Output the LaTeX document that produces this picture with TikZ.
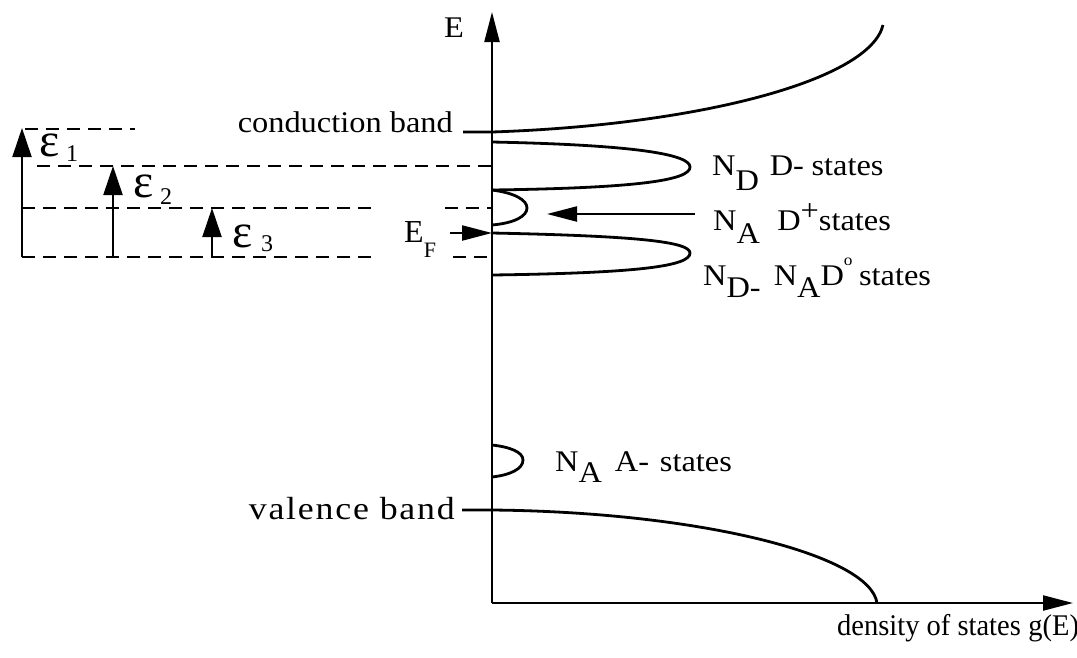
\documentclass[tikz,border=0pt]{standalone}
\usepackage{fontspec}
\setmainfont{Liberation Serif}
\usetikzlibrary{arrows.meta}
\newcommand{\dnsub}[2][14pt]{\raisebox{-#1}{#2}}
\newcommand{\wide}[1]{\scalebox{1.08}[1]{#1}}
\begin{document}
\begin{tikzpicture}[x=1pt,y=-1pt,
  ax/.style={line width=2.2pt},
  crv/.style={line width=2.8pt},
  dsh/.style={line width=2.4pt, dash pattern=on 13pt off 8pt},
  tip/.style={-{Triangle[length=30pt,width=15pt]}},
  etip/.style={-{Triangle[length=29pt,width=19pt]}},
  lbl/.style={font=\fontsize{30}{34}\selectfont, inner sep=0pt},
  eps/.style={font=\fontsize{48}{48}\selectfont, inner sep=0pt},
  epssub/.style={font=\fontsize{24}{26}\selectfont, inner sep=0pt}]
\useasboundingbox (0,0) rectangle (1077,657);
% axes
\coordinate (O) at (492,603);
\coordinate (Etop) at (492,12);
\coordinate (Gend) at (1073,603);
\draw[ax,tip] (O) -- (Etop);
\draw[ax,tip] (O) -- (Gend);
\node[lbl, anchor=base east] (E) at (464,37) {\wide{E}};
\node[lbl, anchor=base west] (dos) at (837,635) {\scalebox{0.95}[1]{density of states\hspace{8pt}g(E)}};
% conduction band
\coordinate (cbL) at (463,132);
\coordinate (cb0) at (492,132);
\coordinate (cbT) at (883,25);
\draw[crv] (cbL) -- (cb0) .. controls (700,125) and (870,80) .. (cbT);
\node[lbl, anchor=base east] (cb) at (453,132) {\wide{conduction band}};
% valence band
\coordinate (vbL) at (462,510);
\coordinate (vb0) at (492,510);
\coordinate (vbE) at (877,603);
\draw[crv] (vbL) -- (vb0) .. controls (700,512) and (870,555) .. (vbE);
\node[lbl, anchor=base east] (vb) at (455,519) {\scalebox{1.12}[1]{\fontsize{32}{36}\selectfont\addfontfeature{LetterSpace=5}valence band}};
% impurity lobes
\draw[crv] (492,142) .. controls (640,145) and (690,155) .. (690,167)
  .. controls (690,180) and (640,188) .. (492,190);
\draw[crv] (492,190) .. controls (515,193) and (527,200) .. (527,208)
  .. controls (527,216) and (515,223) .. (492,225);
\draw[crv] (492,233) .. controls (640,236) and (690,242) .. (690,253)
  .. controls (690,266) and (640,273) .. (492,275);
\draw[crv] (492,445) .. controls (510,447) and (523,452) .. (523,460)
  .. controls (523,469) and (510,475) .. (492,477);
% labels of states
\node[lbl, anchor=base west] (ld) at (712,175) {\wide{N\dnsub[15pt]{D}\hspace{10pt}D-\hspace{7pt}states}};
\node[lbl, anchor=base west] (lp) at (713,230) {\wide{N\dnsub[13pt]{A}\hspace{16pt}D\raisebox{10pt}{+}states}};
\node[lbl, anchor=base west] (lz) at (703,285) {\wide{N\dnsub[12pt]{D-}\hspace{12pt}N\dnsub[12pt]{A}D\raisebox{20pt}{\fontsize{16}{16}\selectfont o}\hspace{6pt}states}};
\node[lbl, anchor=base west] (la) at (555,471) {\wide{N\dnsub[11pt]{A}\hspace{12pt}A-\hspace{10pt}states}};
\coordinate (pA) at (695,214);
\coordinate (pB) at (547,214);
\draw[ax,tip] (pA) -- (pB);
% Fermi level
\coordinate (fA) at (450,233);
\coordinate (fB) at (492,233);
\draw[ax,tip] (fA) -- (fB);
\node[lbl, anchor=base west] (EF) at (404,242) {\fontsize{32}{34}\selectfont E\dnsub[15pt]{\fontsize{22}{24}\selectfont F}};
% dashed levels
\draw[dsh] (25,129) -- (135,129);
\draw[dsh] (37,166) -- (492,166);
\draw[dsh] (22,208) -- (377,208);
\draw[dsh] (445,208) -- (492,208);
\draw[dsh] (22,257) -- (377,257);
\draw[dsh] (453,257) -- (492,257);
% epsilon arrows
\coordinate (e1b) at (22,257); \coordinate (e1t) at (22,128);
\coordinate (e2b) at (113,257); \coordinate (e2t) at (113,166);
\coordinate (e3b) at (212,257); \coordinate (e3t) at (212,208);
\draw[ax,etip] (e1b) -- (e1t);
\draw[ax,etip] (e2b) -- (e2t);
\draw[ax,etip] (e3b) -- (e3t);
\node[eps] (ep1) at (50,145) {ε};
\node[epssub, anchor=base west] (s1) at (66,161) {1};
\node[eps] (ep2) at (144,186) {ε};
\node[epssub, anchor=base west] (s2) at (160,204) {2};
\node[eps] (ep3) at (243,236) {ε};
\node[epssub, anchor=base west] (s3) at (261,251) {3};
\end{tikzpicture}
\end{document}
